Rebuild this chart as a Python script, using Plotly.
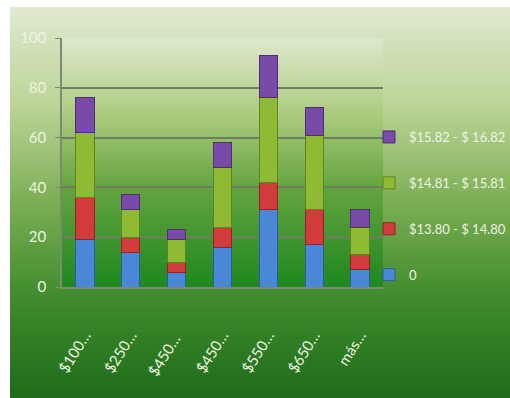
import plotly.graph_objects as go

# Categories along the x axis
categories = ["$100…", "$250…", "$450… ", "$450…", "$550…", "$650…", "más…"]

# Stacked series (bottom to top)
series_names = ["0", "$13.80 - $ 14.80", "$14.81 - $ 15.81", "$15.82 - $ 16.82"]
blue_vals = [19, 14, 6, 16, 31, 17, 7]
red_vals = [17, 6, 4, 8, 11, 14, 6]
green_vals = [26, 11, 9, 24, 34, 30, 11]
purple_vals = [14, 6, 4, 10, 17, 11, 7]

y_ticks = [0, 20, 40, 60, 80, 100]

series_values = [blue_vals, red_vals, green_vals, purple_vals]
fill_colors = ["#4a87d6", "#d23b3b", "#8fba34", "#7a4aa9"]
edge_colors = ["#2c5c9e", "#962323", "#5f8420", "#4f2d78"]

W, H = 510, 398
L, R, T, B = 62, 127, 38, 111
PW, PH = W - L - R, H - T - B


def px_to_paper_x(px):
    return (px - L) / PW


def px_to_paper_y(py):
    return (H - B - py) / PH


def lerp_color(stops, t):
    for (t0, c0), (t1, c1) in zip(stops, stops[1:]):
        if t0 <= t <= t1:
            f = (t - t0) / (t1 - t0) if t1 > t0 else 0
            c = [round(a + (b - a) * f) for a, b in zip(c0, c1)]
            return "rgb({},{},{})".format(*c)
    c = stops[-1][1]
    return "rgb({},{},{})".format(*c)


# Vertical gradient for the chart panel
panel_stops = [
    (0.0, (224, 233, 208)),
    (0.25, (188, 212, 152)),
    (0.5, (124, 174, 84)),
    (0.75, (62, 138, 44)),
    (1.0, (30, 108, 26)),
]
# Slightly more saturated gradient inside the plotting area
plot_stops = [
    (0.0, (222, 232, 206)),
    (0.3, (174, 204, 128)),
    (0.6, (100, 164, 64)),
    (1.0, (30, 136, 30)),
]

shapes = []
panel_top, panel_bot = 7, 398
n = 90
for i in range(n):
    y0 = panel_top + (panel_bot - panel_top) * i / n
    y1 = panel_top + (panel_bot - panel_top) * (i + 1) / n + 2
    shapes.append(dict(
        type="rect", xref="paper", yref="paper", layer="below",
        x0=px_to_paper_x(10), x1=px_to_paper_x(512),
        y0=px_to_paper_y(y0), y1=px_to_paper_y(min(y1, 400)),
        line=dict(width=0), fillcolor=lerp_color(panel_stops, (i + 0.5) / n),
    ))
m = 60
for i in range(m):
    y0 = T + PH * i / m
    y1 = T + PH * (i + 1) / m + 2
    shapes.append(dict(
        type="rect", xref="paper", yref="paper", layer="below",
        x0=0, x1=1, y0=px_to_paper_y(y0), y1=px_to_paper_y(min(y1, H - B)),
        line=dict(width=0), fillcolor=lerp_color(plot_stops, (i + 0.5) / m),
    ))

fig = go.Figure()
n_series = len(series_names)
for idx, (name, vals) in enumerate(zip(series_names, series_values)):
    fig.add_trace(go.Bar(
        x=categories, y=vals, name=name, legendgroup=name,
        legendrank=n_series - idx,
        marker=dict(color=fill_colors[idx],
                    line=dict(color=edge_colors[idx], width=1)),
    ))

font_family = "Lato, 'Open Sans', sans-serif"
label_color = "#eef4e2"

fig.update_layout(
    width=W, height=H,
    margin=dict(l=L, r=R, t=T, b=B, autoexpand=False),
    barmode="stack", bargap=0.6,
    paper_bgcolor="white", plot_bgcolor="rgba(0,0,0,0)",
    shapes=shapes,
    showlegend=True,
    legend=dict(
        x=px_to_paper_x(369), xanchor="left",
        y=px_to_paper_y(206), yanchor="middle",
        traceorder="grouped", tracegroupgap=26,
        font=dict(family=font_family, size=13, color=label_color),
        itemwidth=30, bgcolor="rgba(0,0,0,0)",
    ),
    xaxis=dict(
        type="category", automargin=False,
        tickangle=-58,
        tickfont=dict(family=font_family, size=15, color=label_color),
        showgrid=False, showline=True, linecolor="#7e8a70", linewidth=1.5,
        ticks="", ticklabelstandoff=32,
    ),
    yaxis=dict(
        range=[0, 100], tickvals=y_ticks, automargin=False,
        tickfont=dict(family=font_family, size=15, color=label_color),
        showgrid=True, gridcolor="#6e7c62", gridwidth=1.5,
        showline=True, linecolor="#7e8a70", linewidth=1.5,
        ticks="outside", ticklen=5, tickcolor="#7e8a70",
        ticklabelstandoff=6, zeroline=False,
    ),
)

fig.write_html("out.html")
